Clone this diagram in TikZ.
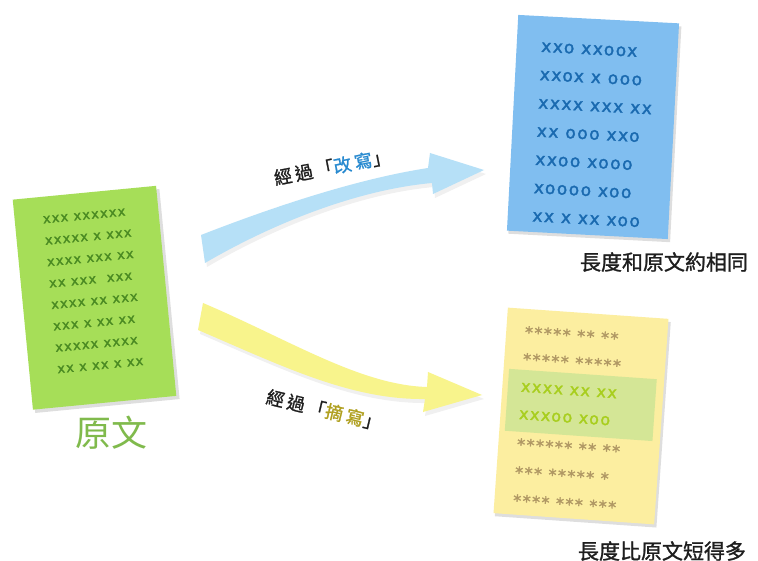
\documentclass[tikz,border=0pt]{standalone}
\usepackage{fontspec}
\newfontfamily\cjk[FakeBold=1.2]{Noto Sans CJK TC}
\newfontfamily\cjkspaced[FakeBold=1.2,LetterSpace=18]{Noto Sans CJK TC}
\newfontfamily\cjktitle{Noto Sans CJK TC}
\newfontfamily\pagefont[LetterSpace=9,FakeBold=1.8]{DejaVu Sans}
\definecolor{greenpage}{RGB}{166,222,88}
\definecolor{greentext}{RGB}{74,138,34}
\definecolor{bluepage}{RGB}{128,190,240}
\definecolor{bluetext}{RGB}{26,106,176}
\definecolor{yellowpage}{RGB}{252,238,160}
\definecolor{startext}{RGB}{176,152,100}
\definecolor{hilite}{RGB}{212,230,150}
\definecolor{hilitetext}{RGB}{168,206,30}
\definecolor{bluearrow}{RGB}{182,224,247}
\definecolor{yellowarrow}{RGB}{248,244,140}
\definecolor{rewriteblue}{RGB}{40,138,208}
\definecolor{summaryolive}{RGB}{176,160,32}
\definecolor{titlegreen}{RGB}{128,186,76}
\definecolor{labelblack}{RGB}{30,30,30}
\tikzset{
  pageshadow/.style={fill=black,opacity=0.13},
  gline/.style={anchor=west,inner sep=0,transform shape,text=greentext,font=\pagefont\fontsize{13}{13}\selectfont},
  bline/.style={anchor=west,inner sep=0,transform shape,text=bluetext,font=\pagefont\fontsize{17}{17}\selectfont},
  sline/.style={anchor=west,inner sep=0,transform shape,text=startext,font=\pagefont\fontsize{16}{16}\selectfont},
  hline/.style={anchor=west,inner sep=0,transform shape,text=hilitetext,font=\pagefont\fontsize{16}{16}\selectfont},
  arrowlabel/.style={inner sep=0,text=labelblack,font=\cjkspaced\fontsize{18}{18}\selectfont},
  caption/.style={inner sep=0,text=labelblack,font=\cjk\fontsize{21}{21}\selectfont},
  arrowshadow/.style={fill=black,opacity=0.06}
}
\begin{document}
\begin{tikzpicture}[x=1pt,y=-1pt]
\useasboundingbox (0,0) rectangle (758,561);
\fill[white] (0,0) rectangle (758,561);

% ---------- green page (original) ----------
\begin{scope}[shift={(94.5,297.75)},rotate=5.5]
  \fill[pageshadow] (-70,-102) rectangle (75,109);
  \fill[greenpage] (-72,-105.5) rectangle (72,105.5);
  \node[gline] (g1) at (-44,-82.4) {xxx xxxxxx};
  \node[gline] (g2) at (-44,-60.9) {xxxxx x xxx};
  \node[gline] (g3) at (-44,-39.4) {xxxx xxx xx};
  \node[gline] (g4) at (-44,-17.9) {xx xxx\ \ xxx};
  \node[gline] (g5) at (-44,3.6) {xxxx xx xxx};
  \node[gline] (g6) at (-44,25.1) {xxx x xx xx};
  \node[gline] (g7) at (-44,46.6) {xxxxx xxxx};
  \node[gline] (g8) at (-44,68.1) {xx x xx x xx};
\end{scope}
\node[inner sep=0,text=titlegreen,font=\cjktitle\fontsize{36}{36}\selectfont] (orig) at (111,433) {原文};

% ---------- blue page (rewrite) ----------
\begin{scope}[shift={(593,127)},rotate=-3]
  \fill[pageshadow] (-79,-105) rectangle (83,111);
  \fill[bluepage] (-80.5,-108) rectangle (80.5,108);
  \node[bline] (b1) at (-56,-77) {xxo xxoox};
  \node[bline] (b2) at (-56,-48.7) {xxox x ooo};
  \node[bline] (b3) at (-56,-20.4) {xxxx xxx xx};
  \node[bline] (b4) at (-56,7.9) {xx ooo xxo};
  \node[bline] (b5) at (-56,36.2) {xxoo xooo};
  \node[bline] (b6) at (-56,64.5) {xoooo xoo};
  \node[bline] (b7) at (-56,92.8) {xx x xx xoo};
\end{scope}
\node[caption] (cap1) at (664,262) {長度和原文約相同};

% ---------- yellow page (summary) ----------
\begin{scope}[shift={(581,416)},rotate=-4]
  \fill[pageshadow] (-79,-100) rectangle (83,106);
  \fill[yellowpage] (-80.5,-103) rectangle (80.5,103);
  \fill[hilite] (-75,-42) rectangle (73,20);
  \node[sline] (y1) at (-62,-80) {***** ** **};
  \node[sline] (y2) at (-62,-53) {***** *****};
  \node[hline] (y3) at (-62,-24.5) {xxxx xx xx};
  \node[hline] (y4) at (-62,3) {xxxoo xoo};
  \node[sline] (y5) at (-62,32.4) {****** ** **};
  \node[sline] (y6) at (-62,60.5) {*** ***** *};
  \node[sline] (y7) at (-62,88.6) {**** *** ***};
\end{scope}
\node[caption] (cap2) at (662,551) {長度比原文短得多};

% ---------- arrows ----------
\fill[arrowshadow,shift={(2,4)}] (201,235) .. controls (260,212) and (350,180) .. (428,168) -- (430,153) -- (484,170) -- (433,194) -- (432,183) .. controls (355,190) and (270,225) .. (205,263) -- cycle;
\fill[bluearrow] (201,235) .. controls (260,212) and (350,180) .. (428,168) -- (430,153) -- (484,170) -- (433,194) -- (432,183) .. controls (355,190) and (270,225) .. (205,263) -- cycle;

\fill[arrowshadow,shift={(2,4)}] (203,303) .. controls (290,340) and (360,385) .. (427,387) -- (428,372) -- (482,395) -- (423,412) -- (425,399) .. controls (350,400) and (280,365) .. (198,330) -- cycle;
\fill[yellowarrow] (203,303) .. controls (290,340) and (360,385) .. (427,387) -- (428,372) -- (482,395) -- (423,412) -- (425,399) .. controls (350,400) and (280,365) .. (198,330) -- cycle;

\node[arrowlabel,rotate=11] (lab1) at (332,167) {經過「\textcolor{rewriteblue}{改寫}」};
\node[arrowlabel,rotate=-13.5] (lab2) at (324,410) {經過「\textcolor{summaryolive}{摘寫}」};
\end{tikzpicture}
\end{document}
